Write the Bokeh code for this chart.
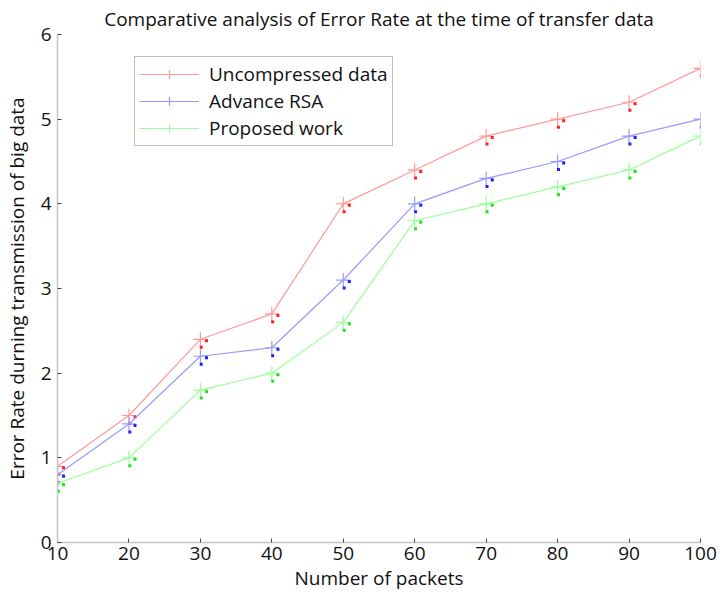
from bokeh.plotting import figure
from bokeh.models import Legend, LegendItem, Range1d, FixedTicker, ColumnDataSource
from bokeh.transform import dodge
from bokeh.embed import file_html
from bokeh.resources import INLINE

packets = [10, 20, 30, 40, 50, 60, 70, 80, 90, 100]
uncompressed = [0.9, 1.5, 2.4, 2.7, 4.0, 4.4, 4.8, 5.0, 5.2, 5.6]
advance_rsa = [0.8, 1.4, 2.2, 2.3, 3.1, 4.0, 4.3, 4.5, 4.8, 5.0]
proposed = [0.7, 1.0, 1.8, 2.0, 2.6, 3.8, 4.0, 4.2, 4.4, 4.8]

series_names = ["Uncompressed data", "Advance RSA", "Proposed work"]
light_colors = ["#ff9a9a", "#9a9aff", "#9aff9a"]
dot_colors = ["#ff2020", "#2020ff", "#20e020"]

FONT = "Open Sans"

p = figure(width=720, height=600, output_backend="svg", toolbar_location=None,
           x_range=Range1d(10, 100), y_range=Range1d(0, 6),
           min_border_left=54, min_border_right=20, min_border_top=33,
           min_border_bottom=58)

p.title.text = "Comparative analysis of Error Rate at the time of transfer data"
p.title.align = "center"
p.title.text_font = FONT
p.title.text_font_size = "19px"
p.title.text_font_style = "normal"
p.title.text_color = "#111111"
p.title.standoff = 6

p.outline_line_color = None
p.xgrid.visible = False
p.ygrid.visible = False

for ax in (p.xaxis[0], p.yaxis[0]):
    ax.axis_line_color = "#c4c4c4"
    ax.axis_line_width = 1.5
    ax.major_tick_in = 4
    ax.major_tick_out = 0
    ax.major_tick_line_color = "#444444"
    ax.minor_tick_line_color = None
    ax.major_label_text_font = FONT
    ax.major_label_text_font_size = "19px"
    ax.major_label_text_color = "#111111"
    ax.axis_label_text_font = FONT
    ax.axis_label_text_font_size = "19px"
    ax.axis_label_text_font_style = "normal"
    ax.axis_label_text_color = "#111111"

p.xaxis.ticker = FixedTicker(ticks=packets)
p.yaxis.ticker = FixedTicker(ticks=[0, 1, 2, 3, 4, 5, 6])
p.xaxis.axis_label = "Number of packets"
p.yaxis.axis_label = "Error Rate durning transmission of big data"
p.xaxis.major_label_standoff = 4
p.yaxis.major_label_standoff = 6
p.xaxis.axis_label_standoff = 2
p.yaxis.axis_label_standoff = 8

items = []
for name, vals, lc, dc in zip(series_names, [uncompressed, advance_rsa, proposed],
                              light_colors, dot_colors):
    src = ColumnDataSource(dict(x=packets, y=vals))
    ln = p.line("x", "y", source=src, line_color=lc, line_width=1.2)
    cr = p.scatter("x", "y", source=src, marker="cross", size=14,
                   line_color=lc, line_width=1.2)
    # small saturated markers beside each point
    p.scatter(dodge("x", 0.85, range=p.x_range), dodge("y", -0.018, range=p.y_range),
              source=src, marker="square", size=3, fill_color=dc, line_color=None)
    p.scatter(dodge("x", 0.12, range=p.x_range), dodge("y", -0.094, range=p.y_range),
              source=src, marker="square", size=3, fill_color=dc, line_color=None)
    items.append(LegendItem(label=name, renderers=[ln, cr]))

legend = Legend(items=items, location=(77, 396), orientation="vertical",
                label_text_font=FONT, label_text_font_size="19px",
                label_text_color="#111111",
                glyph_width=60, glyph_height=22, label_height=22,
                spacing=1, padding=4, margin=0, label_standoff=10,
                border_line_color="#7f7f7f", border_line_width=1,
                background_fill_alpha=1.0)
p.add_layout(legend, "center")

open("out.html", "w").write(file_html(p, INLINE))
